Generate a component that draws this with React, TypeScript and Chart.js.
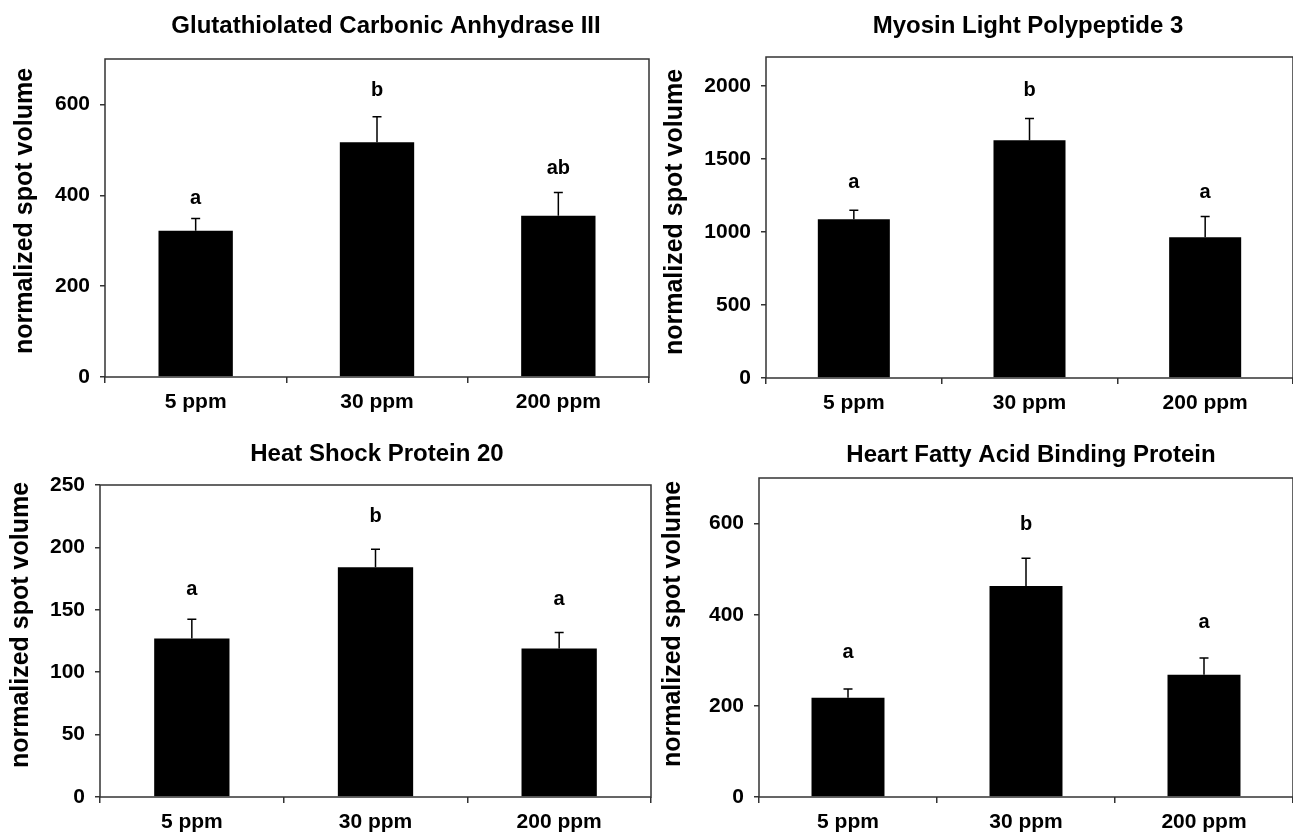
import React, { useEffect, useRef } from "react";
import { Chart, registerables } from "chart.js";

Chart.register(...registerables);

const FONT = "'Liberation Sans', Arial, Helvetica, sans-serif";

const categories = ["5 ppm", "30 ppm", "200 ppm"];
const yAxisLabel = "normalized spot volume";

// Panel 1
const ca3Title = "Glutathiolated Carbonic Anhydrase III";
const ca3Means = [322, 517, 355];
const ca3Errors = [27, 56, 51];
const ca3Letters = ["a", "b", "ab"];
const ca3LetterY = [394, 631, 460];
const ca3Ticks = [0, 200, 400, 600];
const ca3Max = 700;

// Panel 2
const mlpTitle = "Myosin Light Polypeptide 3";
const mlpMeans = [1088, 1630, 965];
const mlpErrors = [62, 149, 142];
const mlpLetters = ["a", "b", "a"];
const mlpLetterY = [1337, 1968, 1269];
const mlpTicks = [0, 500, 1000, 1500, 2000];
const mlpMax = 2200;

// Panel 3
const hspTitle = "Heat Shock Protein 20";
const hspMeans = [127, 184, 119];
const hspErrors = [15.5, 14.5, 12.8];
const hspLetters = ["a", "b", "a"];
const hspLetterY = [166, 225, 158];
const hspTicks = [0, 50, 100, 150, 200, 250];
const hspMax = 250;

// Panel 4
const fabpTitle = "Heart Fatty Acid Binding Protein";
const fabpMeans = [218, 463, 268];
const fabpErrors = [19, 61, 37];
const fabpLetters = ["a", "b", "a"];
const fabpLetterY = [318, 598, 384];
const fabpTicks = [0, 200, 400, 600];
const fabpMax = 700;

type Layout = {
  x: number; y: number; w: number; h: number;
  l: number; t: number; r: number; b: number;
  titleX: number; titleY: number; ylX: number; ylY: number;
};

type PanelProps = {
  title: string;
  means: number[];
  errors: number[];
  letters: string[];
  letterY: number[];
  ticks: number[];
  max: number;
  lay: Layout;
};

function Panel({ title, means, errors, letters, letterY, ticks, max, lay }: PanelProps) {
  const ref = useRef<HTMLCanvasElement | null>(null);
  useEffect(() => {
    if (!ref.current) return;
    const decor = {
      id: "decor",
      afterDatasetsDraw(chart: any) {
        const ctx = chart.ctx;
        const xs = chart.scales.x;
        const ys = chart.scales.y;
        const a = chart.chartArea;
        ctx.save();
        // frame
        ctx.strokeStyle = "#333";
        ctx.lineWidth = 1.5;
        ctx.strokeRect(a.left, a.top, a.right - a.left, a.bottom - a.top);
        // error bars
        ctx.strokeStyle = "#000";
        ctx.lineWidth = 1.5;
        for (let i = 0; i < means.length; i++) {
          const px = xs.getPixelForValue(i);
          const y0 = ys.getPixelForValue(means[i]);
          const y1 = ys.getPixelForValue(means[i] + errors[i]);
          ctx.beginPath();
          ctx.moveTo(px, y0);
          ctx.lineTo(px, y1);
          ctx.moveTo(px - 4.5, y1);
          ctx.lineTo(px + 4.5, y1);
          ctx.stroke();
        }
        // letters
        ctx.fillStyle = "#000";
        ctx.font = `bold 20px ${FONT}`;
        ctx.textAlign = "center";
        ctx.textBaseline = "middle";
        for (let i = 0; i < letters.length; i++) {
          ctx.fillText(letters[i], xs.getPixelForValue(i), ys.getPixelForValue(letterY[i]));
        }
        // title
        ctx.font = `bold 24px ${FONT}`;
        ctx.textBaseline = "alphabetic";
        ctx.fillText(title, lay.titleX, lay.titleY);
        // y axis label
        ctx.translate(lay.ylX, lay.ylY);
        ctx.rotate(-Math.PI / 2);
        ctx.font = `bold 25px ${FONT}`;
        ctx.textBaseline = "middle";
        ctx.fillText(yAxisLabel, 0, 0);
        ctx.restore();
      },
    };
    const chart = new Chart(ref.current, {
      type: "bar",
      data: {
        labels: categories,
        datasets: [
          {
            data: means,
            backgroundColor: "#000",
            borderWidth: 0,
            barPercentage: 0.41,
            categoryPercentage: 1,
          },
        ],
      },
      options: {
        animation: false,
        responsive: false,
        devicePixelRatio: 1,
        layout: { padding: { left: 0, top: lay.t, right: lay.w - lay.r, bottom: 0 } },
        plugins: {
          legend: { display: false },
          tooltip: { enabled: false },
          title: { display: false },
        },
        scales: {
          x: {
            type: "category",
            offset: true,
            grid: { offset: true, drawOnChartArea: false, tickLength: 6, color: "#333", lineWidth: 1.5 },
            border: { display: false },
            ticks: {
              color: "#000",
              font: { family: FONT, size: 21, weight: "bold" },
              padding: 7,
              maxRotation: 0,
              autoSkip: false,
            },
            afterFit(s: any) {
              s.height = lay.h - lay.b;
            },
          },
          y: {
            min: 0,
            max: max,
            grid: { drawOnChartArea: false, tickLength: 5, color: "#333", lineWidth: 1.5 },
            border: { display: false },
            ticks: {
              color: "#000",
              font: { family: FONT, size: 21, weight: "bold" },
              padding: 10,
              callback: (v: any) => String(v),
            },
            afterBuildTicks(s: any) {
              s.ticks = ticks.map((v) => ({ value: v }));
            },
            afterFit(s: any) {
              s.width = lay.l;
            },
          },
        },
      } as any,
      plugins: [decor],
    });
    return () => chart.destroy();
  }, []);
  return (
    <canvas
      ref={ref}
      width={lay.w}
      height={lay.h}
      style={{ position: "absolute", left: lay.x, top: lay.y, width: lay.w, height: lay.h }}
    />
  );
}

const layTL: Layout = { x: 0, y: 0, w: 655, h: 420, l: 105, t: 59, r: 649, b: 377, titleX: 386, titleY: 33, ylX: 25, ylY: 211 };
const layTR: Layout = { x: 655, y: 0, w: 638, h: 420, l: 111, t: 57, r: 638, b: 378, titleX: 373, titleY: 33, ylX: 20, ylY: 212 };
const layBL: Layout = { x: 0, y: 420, w: 655, h: 417, l: 100, t: 65, r: 651, b: 377, titleX: 377, titleY: 41, ylX: 21, ylY: 205 };
const layBR: Layout = { x: 655, y: 420, w: 638, h: 417, l: 104, t: 58, r: 638, b: 377, titleX: 376, titleY: 42, ylX: 18, ylY: 204 };

export default function App() {
  return (
    <div style={{ position: "fixed", left: 0, top: 0, width: 1293, height: 837, background: "#fff" }}>
      <Panel title={ca3Title} means={ca3Means} errors={ca3Errors} letters={ca3Letters} letterY={ca3LetterY} ticks={ca3Ticks} max={ca3Max} lay={layTL} />
      <Panel title={mlpTitle} means={mlpMeans} errors={mlpErrors} letters={mlpLetters} letterY={mlpLetterY} ticks={mlpTicks} max={mlpMax} lay={layTR} />
      <Panel title={hspTitle} means={hspMeans} errors={hspErrors} letters={hspLetters} letterY={hspLetterY} ticks={hspTicks} max={hspMax} lay={layBL} />
      <Panel title={fabpTitle} means={fabpMeans} errors={fabpErrors} letters={fabpLetters} letterY={fabpLetterY} ticks={fabpTicks} max={fabpMax} lay={layBR} />
    </div>
  );
}
